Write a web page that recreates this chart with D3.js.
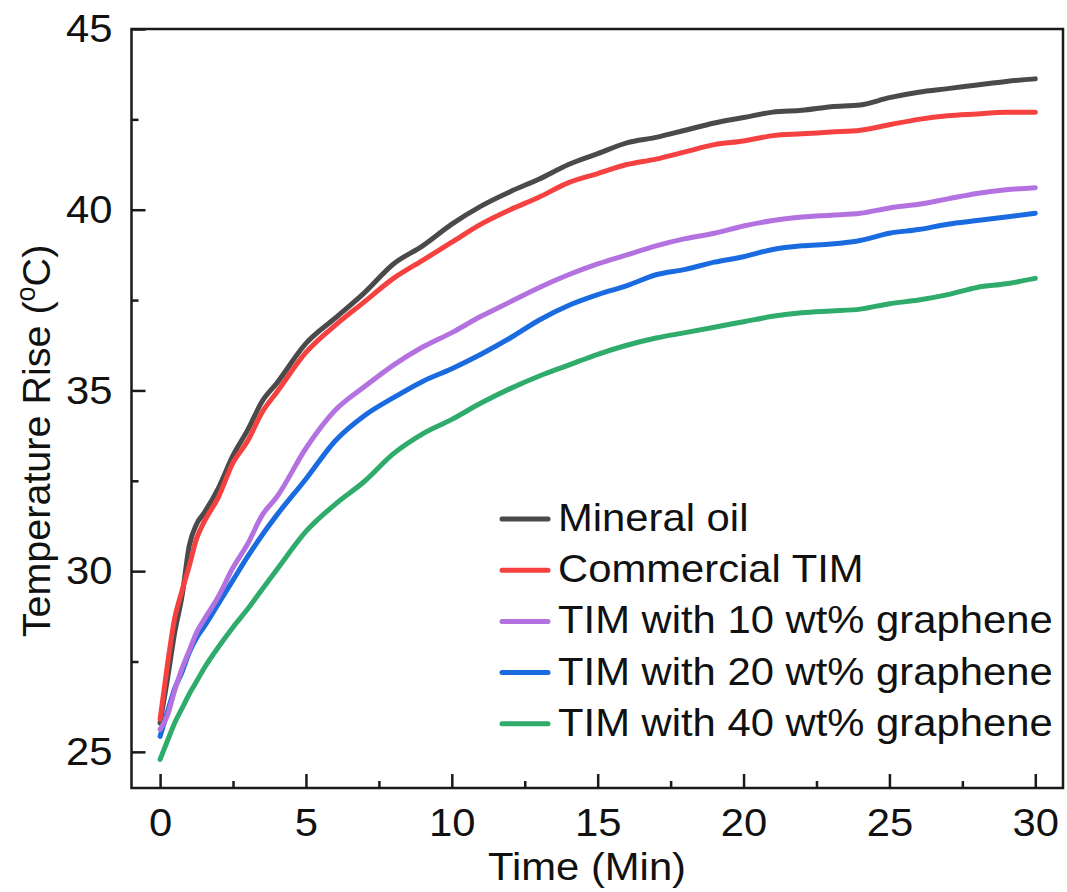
<!DOCTYPE html>
<html>
<head>
<meta charset="utf-8">
<script src="https://cdn.jsdelivr.net/npm/d3@7"></script>
<style>
  body { margin: 0; background: #fff; }
  svg { display: block; font-family: "Liberation Sans", Arial, sans-serif; }
</style>
</head>
<body>
<svg id="chart" width="1067" height="892"></svg>
<script>
// time points (min)
const times = [0, 0.25, 0.5, 0.75, 1, 1.25, 1.5, 2, 2.5, 3, 3.5, 4, 5, 6, 7, 8, 9, 10, 11, 12, 13, 14, 15,
  16, 17, 18, 19, 20, 21, 22, 23, 24, 25, 26, 27, 28, 29, 30];

const mineralOil = [25.8, 27.0, 28.3, 29.3, 30.7, 31.3, 31.6, 32.3, 33.2, 33.9, 34.7, 35.2, 36.3, 37.0, 37.7, 38.5, 39.0, 39.6, 40.1, 40.5, 40.85, 41.25, 41.55,
  41.85, 42.0, 42.2, 42.4, 42.55, 42.7, 42.75, 42.85, 42.9, 43.1, 43.25, 43.35, 43.45, 43.55, 43.62];
const commercialTim = [25.9, 27.4, 28.7, 29.45, 30.15, 30.9, 31.35, 32.05, 33.0, 33.6, 34.4, 34.95, 36.05, 36.8, 37.45, 38.1, 38.6, 39.1, 39.6, 40.0, 40.35, 40.75, 41.0,
  41.25, 41.4, 41.6, 41.8, 41.9, 42.05, 42.1, 42.15, 42.2, 42.35, 42.5, 42.6, 42.65, 42.7, 42.7];
const tim10 = [25.62, 26.0, 26.7, 27.3, 27.8, 28.3, 28.65, 29.3, 30.1, 30.75, 31.55, 32.05, 33.4, 34.45, 35.1, 35.7, 36.2, 36.6, 37.05, 37.45, 37.85, 38.2, 38.5,
  38.75, 39.0, 39.2, 39.35, 39.55, 39.7, 39.8, 39.85, 39.9, 40.05, 40.15, 40.3, 40.45, 40.55, 40.61];
const tim20 = [25.43, 26.1, 26.75, 27.2, 27.75, 28.15, 28.45, 29.1, 29.75, 30.4, 31.0, 31.55, 32.55, 33.6, 34.3, 34.8, 35.25, 35.6, 36.0, 36.45, 36.95, 37.35, 37.65,
  37.9, 38.2, 38.35, 38.55, 38.7, 38.9, 39.0, 39.05, 39.15, 39.35, 39.45, 39.6, 39.7, 39.8, 39.9];
const tim40 = [24.79, 25.3, 25.8, 26.2, 26.6, 26.95, 27.3, 27.9, 28.45, 28.95, 29.5, 30.04, 31.1, 31.85, 32.48, 33.25, 33.8, 34.2, 34.65, 35.05, 35.4, 35.7, 36.0,
  36.25, 36.45, 36.6, 36.75, 36.9, 37.05, 37.15, 37.2, 37.25, 37.4, 37.5, 37.65, 37.85, 37.95, 38.1];

const seriesNames = ['Mineral oil', 'Commercial TIM', 'TIM with 10 wt% graphene', 'TIM with 20 wt% graphene', 'TIM with 40 wt% graphene'];
const seriesColors = ['#4a4a4a', '#f5413f', '#b472e0', '#1a6be0', '#2fab6b'];
const seriesValues = [mineralOil, commercialTim, tim10, tim20, tim40];

const xTicks = [0, 5, 10, 15, 20, 25, 30];
const xMinor = [2.5, 7.5, 12.5, 17.5, 22.5, 27.5];
const yTicks = [25, 30, 35, 40, 45];
const yMinor = [27.5, 32.5, 37.5, 42.5];

const svg = d3.select('#chart');
const plot = { left: 131.5, right: 1063, top: 29, bottom: 788 };
const fontSize = 39.5;
const stretch = 'scale(1.058,1)';   // the source text is a bit wider than Liberation Sans

const x = d3.scaleLinear().domain([-0.98, 30.95]).range([plot.left, plot.right]);
const y = d3.scaleLinear().domain([24, 45]).range([plot.bottom, plot.top]);

// axes (inward ticks)
const xAxis = svg.append('g').attr('transform', `translate(0,${plot.bottom})`)
  .call(d3.axisBottom(x).tickValues(xTicks).tickSize(-14).tickPadding(20).tickFormat(d3.format('d')));
const xAxisMinor = svg.append('g').attr('transform', `translate(0,${plot.bottom})`)
  .call(d3.axisBottom(x).tickValues(xMinor).tickSize(-7).tickFormat(''));
const yAxis = svg.append('g').attr('transform', `translate(${plot.left},0)`)
  .call(d3.axisLeft(y).tickValues(yTicks).tickSize(-14).tickPadding(18).tickFormat(d3.format('d')));
const yAxisMinor = svg.append('g').attr('transform', `translate(${plot.left},0)`)
  .call(d3.axisLeft(y).tickValues(yMinor).tickSize(-7).tickFormat(''));

[xAxis, xAxisMinor, yAxis, yAxisMinor].forEach(a => {
  a.select('.domain').remove();
  a.selectAll('line').attr('stroke', '#1a1a1a').attr('stroke-width', 2.5);
  a.selectAll('text').attr('font-size', fontSize).attr('font-family', '"Liberation Sans", Arial, sans-serif')
    .attr('fill', '#111').attr('transform', stretch);
});

// lines
const line = d3.line().x((d, i) => x(times[i])).y(d => y(d)).curve(d3.curveMonotoneX);
const drawOrder = [0, 1, 3, 2, 4];
drawOrder.forEach(k => {
  svg.append('path')
    .datum(seriesValues[k])
    .attr('fill', 'none')
    .attr('stroke', seriesColors[k])
    .attr('stroke-width', 5)
    .attr('stroke-linejoin', 'round')
    .attr('stroke-linecap', 'round')
    .attr('d', line);
});

// frame
svg.append('rect')
  .attr('x', plot.left).attr('y', plot.top)
  .attr('width', plot.right - plot.left).attr('height', plot.bottom - plot.top)
  .attr('fill', 'none').attr('stroke', '#1a1a1a').attr('stroke-width', 2.5);

// legend
const legend = svg.append('g').attr('transform', 'translate(502,519)');
seriesNames.forEach((name, i) => {
  const row = legend.append('g').attr('transform', `translate(0,${i * 51.2})`);
  row.append('line').attr('x1', 0).attr('x2', 46).attr('y1', 0).attr('y2', 0)
    .attr('stroke', seriesColors[i]).attr('stroke-width', 5).attr('stroke-linecap', 'round');
  row.append('text').attr('transform', `translate(56,12) ${stretch}`)
    .attr('font-size', fontSize).attr('fill', '#111').text(name);
});

// axis titles
svg.append('text')
  .attr('transform', `translate(587,880) ${stretch}`)
  .attr('text-anchor', 'middle').attr('font-size', fontSize).attr('fill', '#111')
  .text('Time (Min)');

const yLabel = svg.append('text')
  .attr('transform', 'translate(50,441) rotate(-90)')
  .attr('text-anchor', 'middle').attr('font-size', fontSize).attr('fill', '#111');
yLabel.append('tspan').text('Temperature Rise (');
yLabel.append('tspan').attr('font-size', 27).attr('dy', -15).text('o');
yLabel.append('tspan').attr('dy', 15).text('C)');
</script>
</body>
</html>
